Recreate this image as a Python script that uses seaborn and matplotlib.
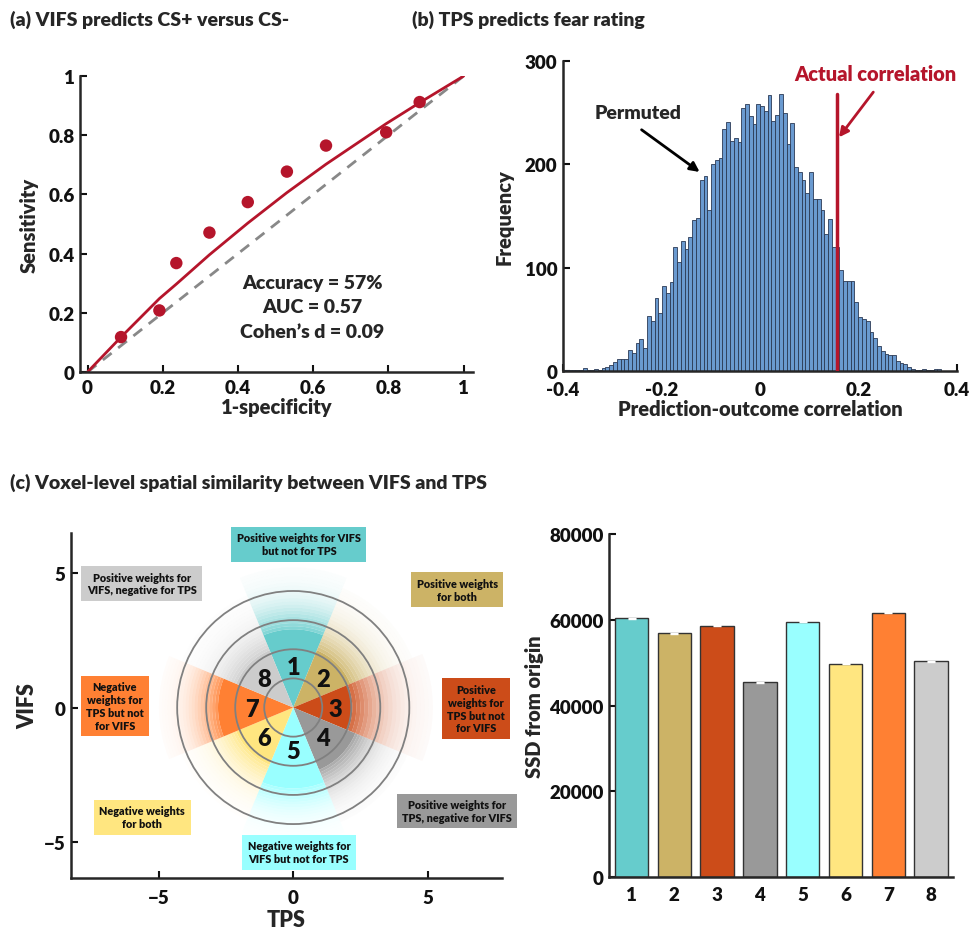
import numpy as np
import pandas as pd
import matplotlib
matplotlib.use("Agg")
import matplotlib.pyplot as plt
from matplotlib.patches import Wedge, Circle
import seaborn as sns

# ---- (a) ROC data
roc_fpr_points = [0.089, 0.191, 0.236, 0.324, 0.426, 0.530, 0.634, 0.794, 0.883]
roc_tpr_points = [0.118, 0.208, 0.368, 0.471, 0.574, 0.677, 0.765, 0.810, 0.912]
roc_fpr_curve = [0.0, 0.089, 0.191, 0.236, 0.324, 0.426, 0.530, 0.634, 0.794, 0.883, 1.0]
roc_tpr_curve = [0.0, 0.118, 0.248, 0.297, 0.396, 0.503, 0.606, 0.702, 0.839, 0.910, 1.0]
roc_stats = ["Accuracy = 57%", "AUC = 0.57", "Cohen\u2019s d = 0.09"]

# ---- (b) permutation histogram (counts per bin)
perm_counts = [1, 1, 1, 1, 1, 3, 1, 1, 2, 1, 3, 4, 6, 9, 12, 12, 12, 20, 17, 27,
               31, 22, 53, 48, 71, 56, 82, 75, 86, 120, 105, 126, 118, 130, 146, 148, 185, 189, 156, 200,
               204, 206, 234, 241, 223, 225, 222, 254, 258, 247, 239, 258, 256, 252, 267, 242, 248, 268, 250, 220,
               240, 197, 193, 185, 172, 193, 166, 166, 156, 133, 147, 120, 120, 98, 87, 87, 87, 67, 52, 50,
               48, 38, 32, 24, 19, 16, 15, 15, 10, 8, 7, 4, 2, 1, 1, 2, 1, 1, 2, 2]
hist_start = -0.398
hist_width = 0.00766
actual_r = 0.157
actual_line_top = 268

# ---- (c) sectors
sector_ids = ["1", "2", "3", "4", "5", "6", "7", "8"]
sector_angles = [90, 45, 0, -45, -90, -135, 180, 135]
sector_colors = ["#66CCCC", "#CCB366", "#CC4C19", "#999999",
                 "#99FFFF", "#FFE680", "#FF8033", "#CCCCCC"]
sector_solid_r = [2.9, 2.3, 2.2, 2.5, 3.0, 2.3, 2.8, 2.3]
sector_outer_r = [5.2, 4.8, 5.2, 4.6, 5.0, 4.5, 5.0, 4.5]
ring_radii = [1.08, 2.16, 3.24, 4.32]
sector_labels = ["Positive weights for VIFS\nbut not for TPS",
                 "Positive weights\nfor both",
                 "Positive\nweights for\nTPS but not\nfor VIFS",
                 "Positive weights for\nTPS, negative for VIFS",
                 "Negative weights for\nVIFS but not for TPS",
                 "Negative weights\nfor both",
                 "Negative\nweights for\nTPS but not\nfor VIFS",
                 "Positive weights for\nVIFS, negative for TPS"]
label_x = [0.21, 6.1, 6.8, 6.1, 0.21, -5.62, -6.64, -5.64]
label_y = [6.05, 4.37, -0.04, -3.83, -5.37, -4.07, 0.06, 4.6]

# ---- (d) SSD bars
ssd_values = [60350, 56850, 58640, 45440, 59570, 49790, 61670, 50330]
ssd_sem = [150, 150, 150, 150, 150, 150, 150, 150]

RED = "#B5152B"
W = 'heavy'
sns.set_style("ticks")
plt.rcParams['font.family'] = ['Lato', 'DejaVu Sans']
plt.rcParams['font.weight'] = W
plt.rcParams['axes.labelweight'] = W
plt.rcParams['axes.edgecolor'] = '#262626'
plt.rcParams['axes.linewidth'] = 1.8
plt.rcParams['xtick.direction'] = 'in'
plt.rcParams['ytick.direction'] = 'in'
plt.rcParams['xtick.major.width'] = 1.5
plt.rcParams['ytick.major.width'] = 1.5
plt.rcParams['xtick.major.size'] = 5
plt.rcParams['ytick.major.size'] = 5

fig = plt.figure(figsize=(9.69, 9.29), dpi=100)


def style_axes(ax, xpad=5):
    sns.despine(ax=ax)
    ax.tick_params(labelsize=13.5, colors='#111111', pad=4)
    ax.tick_params(axis='x', pad=xpad)
    for lab in ax.get_xticklabels() + ax.get_yticklabels():
        lab.set_fontweight(W)


# (a) ROC
ax_a = fig.add_axes([0.0826, 0.5985, 0.4056, 0.3186])
ax_a.plot([0, 1], [0, 1], ls=(0, (4, 3)), color='#888888', lw=2, zorder=1)
sns.lineplot(x=roc_fpr_curve, y=roc_tpr_curve, color=RED, lw=2, ax=ax_a, zorder=2)
sns.scatterplot(x=roc_fpr_points, y=roc_tpr_points, color=RED, s=80, edgecolor='none', ax=ax_a, zorder=3)
ax_a.set_xlim(-0.02, 1.025)
ax_a.set_ylim(0, 1)
ax_a.set_xticks([0, 0.2, 0.4, 0.6, 0.8, 1])
ax_a.set_xticklabels(["0", "0.2", "0.4", "0.6", "0.8", "1"])
ax_a.set_yticks([0, 0.2, 0.4, 0.6, 0.8, 1])
ax_a.set_yticklabels(["0", "0.2", "0.4", "0.6", "0.8", "1"])
ax_a.set_xlabel("1-specificity", fontsize=14.5, labelpad=1)
ax_a.set_ylabel("Sensitivity", fontsize=14.5, labelpad=7)
for i, s in enumerate(roc_stats):
    ax_a.text(0.598, 0.304 - 0.084 * i, s, ha='center', va='center', fontsize=14, fontweight=W)
style_axes(ax_a)

# (b) permutation histogram
ax_b = fig.add_axes([0.581, 0.5996, 0.4066, 0.3337])
edges = hist_start + hist_width * np.arange(len(perm_counts) + 1)
perm_df = pd.DataFrame({"r": (edges[:-1] + edges[1:]) / 2, "count": perm_counts})
sns.histplot(data=perm_df, x="r", weights="count", binwidth=hist_width,
             binrange=(edges[0], edges[-1]), color='#6A9AD0', alpha=1,
             edgecolor='#2B3A55', linewidth=0.6, ax=ax_b)
ax_b.plot([actual_r, actual_r], [0, actual_line_top], color=RED, lw=2.5, zorder=4)
ax_b.annotate("", xy=(actual_r, 224), xytext=(0.2335, 272),
              arrowprops=dict(arrowstyle='-|>', color=RED, lw=2, mutation_scale=14))
ax_b.text(0.2335, 288, "Actual correlation", color=RED, ha='center', va='center',
          fontsize=14.5, fontweight=W)
ax_b.annotate("", xy=(-0.118, 191), xytext=(-0.245, 235),
              arrowprops=dict(arrowstyle='-|>', color='black', lw=2, mutation_scale=14))
ax_b.text(-0.247, 250, "Permuted", ha='center', va='center', fontsize=14, fontweight=W)
ax_b.set_xlim(-0.4, 0.4)
ax_b.set_ylim(0, 300)
ax_b.set_xticks([-0.4, -0.2, 0, 0.2, 0.4])
ax_b.set_xticklabels(["-0.4", "-0.2", "0", "0.2", "0.4"])
ax_b.set_yticks([0, 100, 200, 300])
ax_b.set_xlabel("Prediction-outcome correlation", fontsize=14.5, labelpad=1)
ax_b.set_ylabel("Frequency", fontsize=14.5, labelpad=8)
style_axes(ax_b, xpad=7)

# (c) spatial similarity
ax_c = fig.add_axes([0.0733, 0.0538, 0.4445, 0.3714])
band_alpha = [0.8, 0.72, 0.64, 0.56, 0.49, 0.42, 0.36, 0.3, 0.25, 0.21, 0.17, 0.14,
              0.115, 0.095, 0.075, 0.06, 0.048, 0.038, 0.03, 0.022]
for ang, col, r0, r1 in zip(sector_angles, sector_colors, sector_solid_r, sector_outer_r):
    ax_c.add_patch(Wedge((0, 0), r0, ang - 22.5, ang + 22.5, facecolor=col, edgecolor='none', zorder=1))
    bands = np.linspace(r0, r1, len(band_alpha) + 1)
    for j, a in enumerate(band_alpha):
        ax_c.add_patch(Wedge((0, 0), bands[j + 1], ang - 22.5, ang + 22.5,
                             width=bands[j + 1] - bands[j], facecolor=col, alpha=a,
                             edgecolor='none', zorder=1))
for r in ring_radii:
    ax_c.add_patch(Circle((0, 0), r, fill=False, edgecolor='#808080', lw=1.3, zorder=3))
for sid, ang in zip(sector_ids, sector_angles):
    t = np.deg2rad(ang)
    ax_c.text(1.55 * np.cos(t), 1.55 * np.sin(t) - 0.05, sid, ha='center', va='center',
              fontsize=17, fontweight=W, color='#111111', zorder=4)
for lab, lx, ly, col in zip(sector_labels, label_x, label_y, sector_colors):
    ax_c.text(lx, ly, lab, ha='center', va='center', fontsize=7.8, fontweight=W,
              color='#111111', linespacing=1.2, zorder=5,
              bbox=dict(boxstyle='square,pad=0.5', facecolor=col, edgecolor='none'))
ax_c.set_xlim(-8.27, 7.76)
ax_c.set_ylim(-6.32, 6.47)
ax_c.set_xticks([-5, 0, 5])
ax_c.set_yticks([-5, 0, 5])
ax_c.set_xlabel("TPS", fontsize=15.5, labelpad=2)
ax_c.set_ylabel("VIFS", fontsize=15.5, labelpad=4)
style_axes(ax_c, xpad=8)

# (d) SSD bars
ax_d = fig.add_axes([0.6288, 0.0546, 0.3547, 0.3695])
sns.barplot(x=sector_ids, y=ssd_values, hue=sector_ids, palette=sector_colors, legend=False,
            saturation=1, width=0.78, edgecolor='#333333', linewidth=1.0, errorbar=None, ax=ax_d)
ax_d.errorbar(np.arange(len(ssd_values)), ssd_values, yerr=ssd_sem, fmt='none',
              ecolor='white', capsize=3, elinewidth=1, capthick=1, zorder=5)
ax_d.set_xlim(-0.52, 7.51)
ax_d.set_ylim(0, 80000)
ax_d.set_yticks([0, 20000, 40000, 60000, 80000])
ax_d.set_yticklabels(["0", "20000", "40000", "60000", "80000"])
ax_d.set_xlabel("")
ax_d.set_ylabel("SSD from origin", fontsize=14.5, labelpad=4)
style_axes(ax_d, xpad=6)
ax_d.tick_params(axis='x', length=0)

fig.text(0.0103, 0.9785, "(a) VIFS predicts CS+ versus CS-", fontsize=14, fontweight=W, va='center')
fig.text(0.425, 0.9785, "(b) TPS predicts fear rating", fontsize=14, fontweight=W, va='center')
fig.text(0.0103, 0.48, "(c) Voxel-level spatial similarity between VIFS and TPS", fontsize=14,
         fontweight=W, va='center')

fig.savefig("out.png", dpi=100)
